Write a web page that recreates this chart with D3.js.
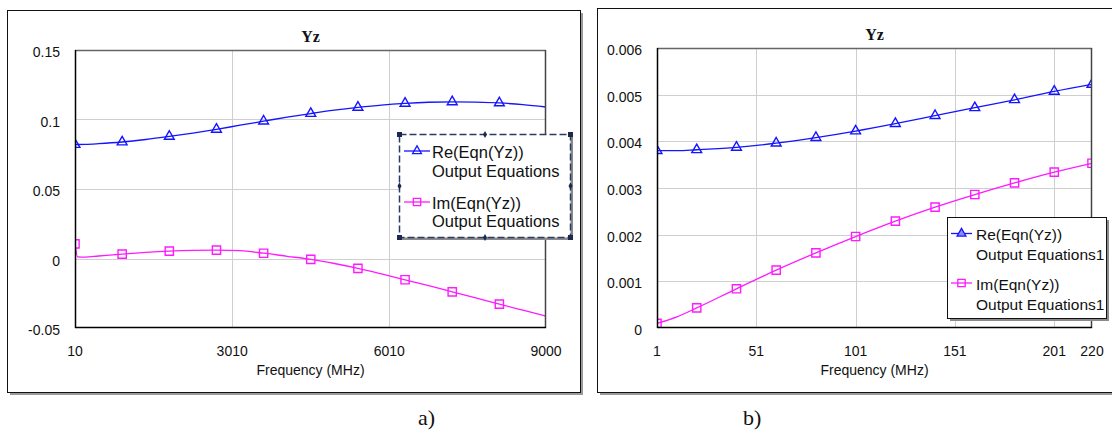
<!DOCTYPE html>
<html lang="en">
<head>
  <meta charset="UTF-8">
  <title>Yz</title>
  <style>
    body { margin: 0; background: white; }
    svg { display: block; }
    .tick-label { font-family: "Liberation Sans", Arial, sans-serif; font-size: 14px; fill: #111; }
    .axis-title { font-family: "Liberation Sans", Arial, sans-serif; font-size: 14px; fill: #111; }
    .chart-title { font-family: "Liberation Serif", "Times New Roman", serif; font-size: 16px; font-weight: bold; fill: #111; }
    .legend-text { font-family: "Liberation Sans", Arial, sans-serif; fill: #111; }
    .caption { font-family: "Liberation Serif", "Times New Roman", serif; font-size: 22px; fill: #111; }
    .grid { stroke: #cfcfcf; stroke-width: 1; }
  </style>
</head>
<body>
<svg width="1112" height="431"></svg>
<script src="https://d3js.org/d3.v7.min.js"></script>
<script>
// ---- data, chart a) ----
const freqA = [10, 60, 200, 460, 910, 1360, 1810, 2260, 2710, 3160, 3610, 4060, 4510, 4960, 5410, 5860, 6310, 6760, 7210, 7660, 8110, 8560, 9000];
const reA = [0.0820, 0.0820, 0.0821, 0.0826, 0.0838, 0.0856, 0.0878, 0.0902, 0.0929, 0.0959, 0.0988, 0.1017, 0.1043, 0.1067, 0.1087, 0.1104, 0.1116, 0.1124, 0.1127, 0.1125, 0.1119, 0.1107, 0.1090];
const imA = [0.0105, 0.0012, 0.0010, 0.0018, 0.0032, 0.0044, 0.0053, 0.0058, 0.0060, 0.0056, 0.0038, 0.0016, -0.0006, -0.0036, -0.0071, -0.0111, -0.0153, -0.0196, -0.0240, -0.0284, -0.0328, -0.0372, -0.0415];
const markFreqA = [10, 910, 1810, 2710, 3610, 4510, 5410, 6310, 7210, 8110];
const xTicksA = [10, 3010, 6010, 9000];
const yTicksA = [-0.05, 0, 0.05, 0.1, 0.15];
const yLabelsA = ["-0.05", "0", "0.05", "0.1", "0.15"];
const legendA = ["Re(Eqn(Yz))", "Output Equations", "Im(Eqn(Yz))", "Output Equations"];

// ---- data, chart b) ----
const freqB = [1, 11, 21, 41, 61, 81, 101, 121, 141, 161, 181, 201, 220];
const reB = [0.00380, 0.00380, 0.00382, 0.00387, 0.00396, 0.00408, 0.00422, 0.00438, 0.00455, 0.00472, 0.00489, 0.00507, 0.00522];
const imB = [0.00010, 0.00024, 0.00043, 0.00084, 0.00124, 0.00161, 0.00196, 0.00229, 0.00259, 0.00286, 0.00311, 0.00334, 0.00353];
const markFreqB = [1, 21, 41, 61, 81, 101, 121, 141, 161, 181, 201, 220];
const xTicksB = [1, 51, 101, 151, 201, 220];
const yTicksB = [0, 0.001, 0.002, 0.003, 0.004, 0.005, 0.006];
const yLabelsB = ["0", "0.001", "0.002", "0.003", "0.004", "0.005", "0.006"];
const legendB = ["Re(Eqn(Yz))", "Output Equations1", "Im(Eqn(Yz))", "Output Equations1"];

const BLUE = "#1414ff", MAGENTA = "#ff1aff";
const svg = d3.select("svg");

function drawChart(cfg) {
  const g = svg.append("g");

  // outer frame with shadow
  g.append("rect").attr("x", cfg.frame[0] + 3).attr("y", cfg.frame[1] + 3)
    .attr("width", cfg.frame[2] - cfg.frame[0]).attr("height", cfg.frame[3] - cfg.frame[1])
    .attr("fill", "#9a9a9a");
  g.append("rect").attr("x", cfg.frame[0] + 0.5).attr("y", cfg.frame[1] + 0.5)
    .attr("width", cfg.frame[2] - cfg.frame[0]).attr("height", cfg.frame[3] - cfg.frame[1])
    .attr("fill", "white").attr("stroke", "#111");

  const x = d3.scaleLinear().domain(cfg.xDomain).range([cfg.plot[0], cfg.plot[2]]);
  const y = d3.scaleLinear().domain(cfg.yDomain).range([cfg.plot[3], cfg.plot[1]]);

  // gridlines
  g.selectAll(".gx").data(cfg.xTicks.slice(1, -1)).enter().append("line")
    .attr("class", "grid")
    .attr("x1", d => Math.round(x(d)) + 0.5).attr("x2", d => Math.round(x(d)) + 0.5)
    .attr("y1", cfg.plot[1]).attr("y2", cfg.plot[3]);
  g.selectAll(".gy").data(cfg.yTicks.slice(1, -1)).enter().append("line")
    .attr("class", "grid")
    .attr("x1", cfg.plot[0]).attr("x2", cfg.plot[2])
    .attr("y1", d => Math.round(y(d)) + 0.5).attr("y2", d => Math.round(y(d)) + 0.5);

  // tick labels
  g.selectAll(".tx").data(cfg.xTicks).enter().append("text")
    .attr("class", "tick-label").attr("text-anchor", "middle")
    .attr("x", d => x(d)).attr("y", cfg.plot[3] + 28)
    .text(d => d);
  g.selectAll(".ty").data(cfg.yTicks).enter().append("text")
    .attr("class", "tick-label").attr("text-anchor", "end")
    .attr("x", cfg.plot[0] - 15).attr("y", d => y(d) + 7)
    .text((d, i) => cfg.yLabels[i]);

  g.append("text").attr("class", "chart-title").attr("text-anchor", "middle")
    .attr("x", (cfg.plot[0] + cfg.plot[2]) / 2).attr("y", cfg.plot[1] - 8).text("Yz");
  g.append("text").attr("class", "axis-title").attr("text-anchor", "middle")
    .attr("x", (cfg.plot[0] + cfg.plot[2]) / 2).attr("y", cfg.plot[3] + 47).text("Frequency (MHz)");

  // series
  const clipId = "clip" + cfg.id;
  svg.append("defs").append("clipPath").attr("id", clipId).append("rect")
    .attr("x", cfg.plot[0]).attr("y", cfg.plot[1])
    .attr("width", cfg.plot[2] - cfg.plot[0]).attr("height", cfg.plot[3] - cfg.plot[1]);
  const pg = g.append("g").attr("clip-path", `url(#${clipId})`);
  const line = d3.line().x(d => x(d[0])).y(d => y(d[1])).curve(d3.curveMonotoneX);

  cfg.series.forEach(s => {
    const pts = cfg.freq.map((f, i) => [f, s.values[i]]);
    pg.append("path").datum(pts).attr("d", line)
      .attr("fill", "none").attr("stroke", s.color).attr("stroke-width", 1.3);
    const marks = pts.filter(p => cfg.markFreq.includes(p[0]));
    pg.selectAll(null).data(marks).enter().append("path")
      .attr("transform", d => `translate(${x(d[0])},${y(d[1])})`)
      .attr("d", d3.symbol().type(s.symbol).size(s.symbolSize))
      .attr("fill", "none").attr("stroke", s.color).attr("stroke-width", 1.4);
  });

  // plot border: top/right grey, left/bottom black
  const [l, t, r, b] = cfg.plot;
  g.append("line").attr("x1", l).attr("x2", r).attr("y1", t + 0.5).attr("y2", t + 0.5).attr("stroke", "#666").attr("stroke-width", 1.5);
  g.append("line").attr("x1", r - 0.5).attr("x2", r - 0.5).attr("y1", t).attr("y2", b).attr("stroke", "#444").attr("stroke-width", 1.5);
  g.append("line").attr("x1", l + 0.5).attr("x2", l + 0.5).attr("y1", t).attr("y2", b).attr("stroke", "#000").attr("stroke-width", 1.5);
  g.append("line").attr("x1", l).attr("x2", r).attr("y1", b - 0.5).attr("y2", b - 0.5).attr("stroke", "#000").attr("stroke-width", 1.5);

  // legend
  const L = cfg.legend;
  const lg = g.append("g");
  lg.append("rect").attr("x", L.box[0] + 3).attr("y", L.box[1] + 3)
    .attr("width", L.box[2] - L.box[0]).attr("height", L.box[3] - L.box[1]).attr("fill", "#8a8a8a");
  lg.append("rect").attr("x", L.box[0] + 0.5).attr("y", L.box[1] + 0.5)
    .attr("width", L.box[2] - L.box[0]).attr("height", L.box[3] - L.box[1])
    .attr("fill", "white").attr("stroke", L.dashed ? "#2b3a66" : "#111")
    .attr("stroke-width", L.dashed ? 1.5 : 1)
    .attr("stroke-dasharray", L.dashed ? "7,3" : null);
  if (L.dashed) {
    const [x0, y0, x1, y1] = L.box;
    const xm = (x0 + x1) / 2, ym = (y0 + y1) / 2;
    const corners = [[x0, y0], [x1, y0], [x0, y1], [x1, y1]];
    const mids = [[xm, y0], [xm, y1], [x0, ym], [x1, ym]];
    lg.selectAll(null).data(corners).enter().append("rect")
      .attr("x", d => d[0] - 2).attr("y", d => d[1] - 2).attr("width", 5).attr("height", 5).attr("fill", "#1c2850");
    lg.selectAll(null).data(mids).enter().append("path")
      .attr("transform", d => `translate(${d[0] + 0.5},${d[1] + 0.5})`)
      .attr("d", d3.symbol().type(d3.symbolDiamond).size(14)).attr("fill", "#1c2850");
  }
  cfg.series.forEach((s, i) => {
    const yy = L.rows[i * 2] - 6.5;
    lg.append("line").attr("x1", L.lineX[0]).attr("x2", L.lineX[1]).attr("y1", yy).attr("y2", yy)
      .attr("stroke", s.color).attr("stroke-width", 1.3);
    lg.append("path").attr("transform", `translate(${(L.lineX[0] + L.lineX[1]) / 2},${yy})`)
      .attr("d", d3.symbol().type(s.symbol).size(s.symbolSize * 0.8))
      .attr("fill", s.legendFill).attr("stroke", s.color).attr("stroke-width", 1.3);
  });
  lg.selectAll(null).data(cfg.legendText).enter().append("text")
    .attr("class", "legend-text").style("font-size", L.fontSize + "px")
    .attr("x", L.textX).attr("y", (d, i) => L.rows[i]).text(d => d);

  g.append("text").attr("class", "caption").attr("x", cfg.caption[0]).attr("y", cfg.caption[1]).text(cfg.captionText);
}

drawChart({
  id: "a", frame: [7, 10, 580, 392], plot: [75, 50, 546, 328],
  xDomain: [10, 9000], yDomain: [-0.05, 0.15],
  xTicks: xTicksA, yTicks: yTicksA, yLabels: yLabelsA,
  freq: freqA, markFreq: markFreqA,
  series: [
    { values: reA, color: BLUE, symbol: d3.symbolTriangle, symbolSize: 42, legendFill: "none" },
    { values: imA, color: MAGENTA, symbol: d3.symbolSquare, symbolSize: 68, legendFill: "none" }
  ],
  legendText: legendA,
  legend: { box: [399, 134, 570, 237], dashed: true, lineX: [404, 430], textX: 432, rows: [157.5, 177, 208.5, 227], fontSize: 16.5 },
  caption: [418, 425], captionText: "a)"
});

drawChart({
  id: "b", frame: [597, 8, 1116, 392], plot: [657, 48, 1092, 328],
  xDomain: [1, 220], yDomain: [0, 0.006],
  xTicks: xTicksB, yTicks: yTicksB, yLabels: yLabelsB,
  freq: freqB, markFreq: markFreqB,
  series: [
    { values: reB, color: BLUE, symbol: d3.symbolTriangle, symbolSize: 42, legendFill: "#8c8cff" },
    { values: imB, color: MAGENTA, symbol: d3.symbolSquare, symbolSize: 68, legendFill: "none" }
  ],
  legendText: legendB,
  legend: { box: [947, 217, 1106, 318], dashed: false, lineX: [951, 972], textX: 976, rows: [240, 260, 289.5, 309.5], fontSize: 15.5 },
  caption: [743, 425], captionText: "b)"
});
</script>
</body>
</html>
